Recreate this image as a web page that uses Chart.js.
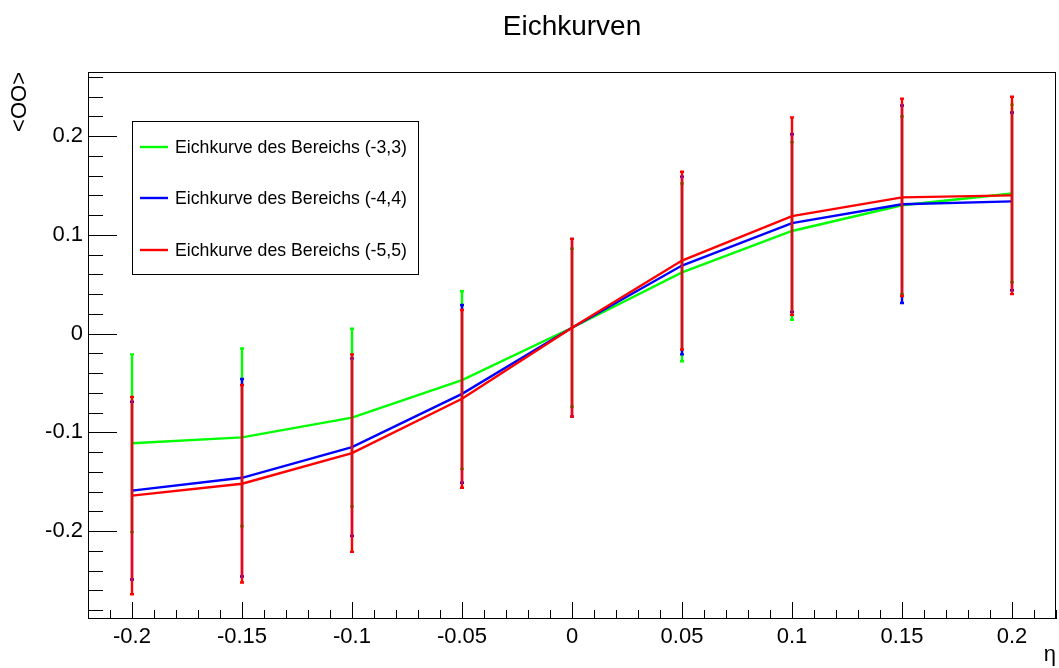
<!DOCTYPE html>
<html>
<head>
<meta charset="utf-8">
<title>Eichkurven</title>
<script src="https://cdn.jsdelivr.net/npm/chart.js@4.4.1/dist/chart.umd.min.js"></script>
<style>
  html, body { margin: 0; padding: 0; background: #fff; }
  #wrap { width: 1059px; height: 668px; }
</style>
</head>
<body>
<div id="wrap"><canvas id="eichChart" width="1059" height="668"></canvas></div>
<script>
// Messpunkte (eta) und Kurven
const eta = [-0.2, -0.15, -0.1, -0.05, 0, 0.05, 0.1, 0.15, 0.2];

const kurve33 = [-0.111, -0.105, -0.085, -0.047, 0.006, 0.062, 0.104, 0.130, 0.142];
const fehler33 = [0.09, 0.09, 0.09, 0.09, 0.08, 0.09, 0.09, 0.09, 0.09];

const kurve44 = [-0.159, -0.146, -0.115, -0.061, 0.006, 0.069, 0.112, 0.131, 0.134];
const fehler44 = [0.09, 0.10, 0.09, 0.09, 0.09, 0.09, 0.09, 0.10, 0.09];

const kurve55 = [-0.164, -0.152, -0.121, -0.066, 0.006, 0.074, 0.119, 0.138, 0.140];
const fehler55 = [0.10, 0.10, 0.10, 0.09, 0.09, 0.09, 0.10, 0.10, 0.10];

const xTickValues = [-0.2, -0.15, -0.1, -0.05, 0, 0.05, 0.1, 0.15, 0.2];
const xTickLabels = ['-0.2', '-0.15', '-0.1', '-0.05', '0', '0.05', '0.1', '0.15', '0.2'];
const yTickValues = [-0.2, -0.1, 0, 0.1, 0.2];
const yTickLabels = ['-0.2', '-0.1', '0', '0.1', '0.2'];

const labels = ['Eichkurve des Bereichs (-3,3)', 'Eichkurve des Bereichs (-4,4)', 'Eichkurve des Bereichs (-5,5)'];

const toPoints = (ys) => eta.map((x, i) => ({ x: x, y: ys[i] }));

Chart.defaults.font.family = '"Liberation Sans", Arial, Helvetica, sans-serif';
Chart.defaults.color = '#000';

// Fehlerbalken pro Datensatz, direkt nach dessen Linie
const errorBars = {
    id: 'errorBars',
    afterDatasetDraw(chart, args) {
        const ds = chart.data.datasets[args.index];
        const xs = chart.scales.x, ys = chart.scales.y;
        const ctx = chart.ctx;
        ctx.save();
        ctx.strokeStyle = ds.borderColor;
        ctx.lineWidth = 2.4;
        ds.data.forEach((p, i) => {
            const px = Math.round(xs.getPixelForValue(p.x));
            const top = ys.getPixelForValue(p.y + ds.errors[i]);
            const bot = ys.getPixelForValue(p.y - ds.errors[i]);
            ctx.beginPath();
            ctx.moveTo(px, top);
            ctx.lineTo(px, bot);
            ctx.moveTo(px - 2, top);
            ctx.lineTo(px + 2, top);
            ctx.moveTo(px - 2, bot);
            ctx.lineTo(px + 2, bot);
            ctx.stroke();
        });
        ctx.restore();
    }
};

// Rahmen und Ticks im ROOT-Stil (nach innen)
const rootFrame = {
    id: 'rootFrame',
    afterDraw(chart) {
        const { ctx, chartArea: a } = chart;
        const xs = chart.scales.x, ys = chart.scales.y;
        ctx.save();
        ctx.strokeStyle = '#000';
        ctx.lineWidth = 1;
        ctx.strokeRect(a.left + 0.5, a.top + 0.5, a.right - a.left - 1, a.bottom - a.top - 1);
        ctx.beginPath();
        for (let k = -14; k <= 13; k++) {
            const py = Math.round(ys.getPixelForValue(k * 0.02)) + 0.5;
            const len = k % 5 === 0 ? 29 : 15;
            ctx.moveTo(a.left, py);
            ctx.lineTo(a.left + len, py);
        }
        for (let k = -22; k <= 22; k++) {
            const px = Math.round(xs.getPixelForValue(k * 0.01)) + 0.5;
            const len = k % 5 === 0 ? 17 : 9;
            ctx.moveTo(px, a.bottom);
            ctx.lineTo(px, a.bottom - len);
        }
        ctx.stroke();
        ctx.restore();
    }
};

// Legende mit Rahmen
const rootLegend = {
    id: 'rootLegend',
    afterDraw(chart) {
        const ctx = chart.ctx;
        ctx.save();
        ctx.fillStyle = '#fff';
        ctx.fillRect(132, 121, 286, 153);
        ctx.strokeStyle = '#000';
        ctx.lineWidth = 1;
        ctx.strokeRect(132.5, 121.5, 286, 153);
        const rows = [147, 198, 250];
        ctx.font = '17.7px "Liberation Sans", Arial, sans-serif';
        ctx.textBaseline = 'middle';
        chart.data.datasets.forEach((ds, i) => {
            ctx.strokeStyle = ds.borderColor;
            ctx.lineWidth = 2.4;
            ctx.beginPath();
            ctx.moveTo(140, rows[i]);
            ctx.lineTo(168, rows[i]);
            ctx.stroke();
            ctx.fillStyle = '#000';
            ctx.fillText(ds.label, 175, rows[i] + 1);
        });
        ctx.restore();
    }
};

const ctx = document.getElementById('eichChart').getContext('2d');
new Chart(ctx, {
    type: 'line',
    data: {
        datasets: [
            { label: labels[0], data: toPoints(kurve33), errors: fehler33, borderColor: '#00ff00', order: 3 },
            { label: labels[1], data: toPoints(kurve44), errors: fehler44, borderColor: '#0000ff', order: 2 },
            { label: labels[2], data: toPoints(kurve55), errors: fehler55, borderColor: '#ff0000', order: 1 }
        ]
    },
    options: {
        responsive: false,
        animation: false,
        devicePixelRatio: 1,
        layout: { padding: { left: 0, right: 3, top: 0, bottom: 0 } },
        elements: {
            line: { borderWidth: 2.4, tension: 0, fill: false },
            point: { radius: 0, hoverRadius: 0 }
        },
        plugins: {
            legend: { display: false },
            tooltip: { enabled: false },
            title: {
                display: true,
                text: 'Eichkurven',
                fullSize: false,
                font: { size: 28, weight: 'normal' },
                padding: { top: 10, bottom: 28.4 }
            }
        },
        scales: {
            x: {
                type: 'linear',
                min: -0.22,
                max: 0.22,
                afterFit(scale) { scale.height = 49; },
                afterBuildTicks(scale) { scale.ticks = xTickValues.map(v => ({ value: v })); },
                grid: { display: false, drawTicks: false },
                border: { display: false },
                ticks: {
                    autoSkip: false,
                    maxRotation: 0,
                    padding: 5,
                    font: { size: 22 },
                    callback: (v, i) => xTickLabels[i]
                },
                title: {
                    display: true,
                    text: 'η',
                    align: 'end',
                    font: { size: 22 },
                    padding: 0
                }
            },
            y: {
                type: 'linear',
                min: -0.289,
                max: 0.265,
                afterFit(scale) { scale.width = 88; },
                afterBuildTicks(scale) { scale.ticks = yTickValues.map(v => ({ value: v })); },
                grid: { display: false, drawTicks: false },
                border: { display: false },
                ticks: {
                    autoSkip: false,
                    padding: 5,
                    font: { size: 22 },
                    callback: (v, i) => yTickLabels[i]
                },
                title: {
                    display: true,
                    text: '<OO>',
                    align: 'end',
                    font: { size: 22 },
                    padding: { top: 7, bottom: 0 }
                }
            }
        }
    },
    plugins: [errorBars, rootFrame, rootLegend]
});
</script>
</body>
</html>
